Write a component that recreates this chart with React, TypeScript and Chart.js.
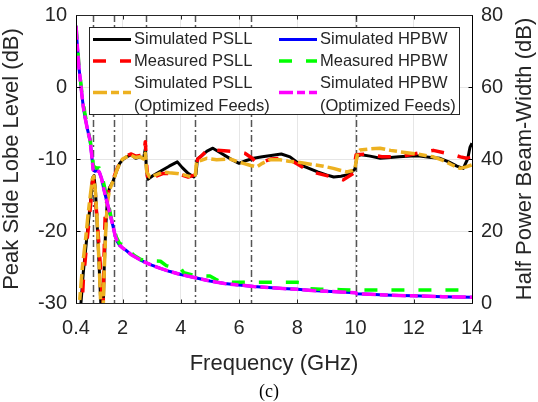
import React, { useEffect, useRef } from "react";
import { Chart, registerables } from "chart.js";

Chart.register(...registerables);

// ---------- tick labels / axes ----------
const xTickValues = [0.4, 2, 4, 6, 8, 10, 12, 14];
const xTickLabels = ["0.4", "2", "4", "6", "8", "10", "12", "14"];
const bandEdges = [1.0, 1.7, 2.8, 4.5, 6.4, 10.0];

// ---------- Simulated PSLL (dB) ----------
const simPsllFreq = [0.4, 0.55, 0.6, 0.65, 0.75, 0.85, 0.92, 0.97, 1.02, 1.07, 1.12, 1.18, 1.24, 1.27, 1.33, 1.37, 1.42, 1.48, 1.55, 1.62, 1.68, 1.74, 1.8, 1.9, 2.0, 2.14, 2.3, 2.45, 2.6, 2.72, 2.78, 2.82, 2.87, 3.05, 3.3, 3.6, 3.88, 4.05, 4.25, 4.45, 4.52, 4.57, 4.7, 4.9, 5.1, 5.3, 5.55, 5.8, 6.0, 6.25, 6.5, 6.8, 7.1, 7.45, 7.75, 8.1, 8.4, 8.7, 9.0, 9.25, 9.5, 9.7, 9.9, 9.98, 10.05, 10.2, 10.5, 10.85, 11.2, 11.5, 11.9, 12.2, 12.6, 12.9, 13.2, 13.48, 13.7, 13.85, 13.93, 14];
const simPsllDb = [-32, -31, -28.5, -25.8, -21.8, -17.8, -15, -12.6, -12.3, -14.5, -18.5, -23.5, -29, -31.5, -31.5, -25, -19.5, -15.5, -14, -13.5, -13, -12.3, -11.6, -10.6, -10.1, -9.7, -9.4, -9.9, -9.7, -9.9, -8.6, -11.5, -12.8, -12.3, -11.7, -11.0, -10.4, -11.2, -12.0, -12.5, -12.1, -10.0, -9.6, -8.9, -8.5, -9.0, -9.6, -10.2, -10.6, -10.2, -9.9, -9.7, -9.5, -9.3, -9.7, -10.8, -11.3, -11.8, -12.2, -12.5, -12.4, -12.2, -11.7, -11.4, -9.6, -9.4, -9.6, -9.9, -9.8, -9.7, -9.6, -9.6, -9.8, -9.9, -10.4, -11, -11.3, -10.0, -8.4, -7.8];

// ---------- Measured PSLL (dB) ----------
const measPsllFreq = [0.4, 0.6, 0.65, 0.75, 0.85, 0.92, 0.96, 1.0, 1.05, 1.12, 1.18, 1.24, 1.28, 1.3, 1.33, 1.36, 1.4, 1.45, 1.5, 1.58, 1.68, 1.75, 1.85, 1.95, 2.1, 2.3, 2.45, 2.6, 2.72, 2.78, 2.83, 2.87, 2.95, 3.2, 3.4, 3.75, 4.0, 4.25, 4.5, 4.58, 4.7, 4.85, 5.0, 5.25, 5.6, 5.92, 6.2, 6.45, 6.66, 6.82, 7.1, 7.5, 7.75, 8.0, 8.32, 8.7, 9.1, 9.58, 9.92, 10.02, 10.4, 10.9, 11.5, 12.0, 12.4, 12.67, 13.0, 13.36, 13.6, 13.82, 14];
const measPsllDb = [-32, -31, -27, -22.5, -18.5, -15.5, -13.2, -13.0, -15, -18, -21.5, -25, -28, -31, -31, -24, -18, -16, -14.8, -13.5, -12.8, -12, -11, -10.2, -9.6, -9.3, -9.6, -9.5, -9.6, -7.6, -11, -13.2, -12.9, -12.3, -12.0, -12.0, -12.2, -12.5, -12.2, -10.0, -9.6, -9.0, -8.5, -8.8, -8.9, -9.0, -9.2, -9.9, -10.8, -10.4, -10.0, -9.9, -10.1, -10.7, -11.5, -12.0, -12.4, -12.9, -12.0, -9.4, -9.3, -9.7, -9.7, -9.3, -9.0, -8.8, -9.1, -9.4, -9.7, -9.9, -9.8];

// ---------- Simulated PSLL, optimized feeds (dB) ----------
const optPsllFreq = [0.4, 0.5, 0.55, 0.62, 0.72, 0.82, 0.9, 0.96, 1.01, 1.06, 1.12, 1.17, 1.23, 1.26, 1.33, 1.37, 1.42, 1.48, 1.55, 1.62, 1.7, 1.8, 1.9, 2.0, 2.14, 2.3, 2.45, 2.6, 2.72, 2.78, 2.83, 2.93, 3.15, 3.39, 3.6, 3.86, 4.1, 4.37, 4.5, 4.54, 4.7, 4.89, 5.23, 5.69, 5.9, 6.15, 6.4, 6.6, 6.8, 7.06, 7.4, 7.7, 7.98, 8.25, 8.55, 8.9, 9.24, 9.5, 9.7, 9.9, 9.98, 10.08, 10.15, 10.5, 10.84, 11.2, 11.53, 12.1, 12.67, 13.0, 13.3, 13.59, 13.8, 14];
const optPsllDb = [-32, -31, -28.5, -25, -21.5, -17.5, -14.8, -12.8, -12.4, -14.2, -18, -22.5, -28, -31.5, -31.5, -25.5, -20, -16, -14.3, -13.6, -12.8, -11.6, -10.6, -10.0, -9.7, -9.5, -9.8, -9.7, -10.0, -9.2, -11.8, -12.5, -12.2, -11.8, -11.9, -12.0, -12.2, -12.5, -12.2, -10.4, -10.2, -9.9, -10.1, -10.0, -10.3, -10.6, -10.9, -11.1, -10.6, -10.1, -10.1, -10.3, -10.4, -10.6, -10.8, -11.0, -11.3, -11.6, -11.8, -11.6, -11.3, -9.0, -8.75, -8.6, -8.5, -8.8, -9.0, -9.3, -9.7, -10.2, -10.8, -11.3, -11.1, -10.8];

// ---------- Simulated HPBW ----------
const simHpbwFreq = [0.4, 0.45, 0.5, 0.6, 0.65, 0.7, 0.8, 0.88, 0.94, 0.99, 1.05, 1.12, 1.2, 1.28, 1.36, 1.45, 1.52, 1.6, 1.68, 1.75, 1.82, 1.9, 2.0, 2.14, 2.3, 2.6, 2.8, 3.0, 3.3, 3.6, 4.0, 4.5, 5.0, 5.5, 6.0, 6.5, 7.0, 7.5, 8.0, 8.5, 9.0, 9.5, 10.0, 10.05, 10.5, 11.0, 11.5, 12.0, 12.5, 13.0, 13.5, 14.0];
const simHpbwDeg = [77, 71, 65.5, 58, 54.5, 52, 48, 45.3, 41, 37, 36.6, 36.8, 36.4, 34.5, 31.5, 28.5, 26.3, 23.8, 21, 18.5, 17, 16, 15.3, 14.5, 13.4, 12, 11.2, 10.5, 9.6, 8.8, 7.9, 7.0, 6.1, 5.4, 5.0, 4.6, 4.3, 4.05, 3.8, 3.5, 3.25, 3.05, 2.85, 2.55, 2.4, 2.25, 2.1, 1.98, 1.87, 1.77, 1.68, 1.6];

// ---------- Measured HPBW ----------
const measHpbwFreq = [0.4, 0.5, 0.6, 0.7, 0.8, 0.9, 1.0, 1.1, 1.2, 1.3, 1.4, 1.5, 1.6, 1.7, 1.8, 1.9, 2.0, 2.1, 2.2, 2.4, 2.6, 2.8, 3.0, 3.3, 3.5, 3.8, 4.0, 4.1, 4.4, 4.5, 5.0, 5.2, 5.4, 6.0, 7.0, 8.0, 8.2, 8.4, 8.8, 9.5, 10.0, 12.0, 14.0];
const measHpbwDeg = [77, 66, 58.5, 53, 48.5, 44.5, 38, 37.5, 37.5, 35, 31.5, 28, 24, 20.5, 18, 16.5, 16.2, 16, 14.6, 13.2, 12.2, 11.7, 11.7, 11.6, 10.4, 9.7, 9.6, 8.4, 7.8, 7.6, 7.5, 6.6, 5.8, 5.75, 5.75, 5.75, 5.6, 4.0, 3.8, 3.7, 3.6, 3.6, 3.6];

// ---------- Simulated HPBW, optimized feeds ----------
const optHpbwFreq = [0.4, 0.45, 0.5, 0.6, 0.65, 0.7, 0.8, 0.88, 0.94, 0.99, 1.05, 1.12, 1.2, 1.28, 1.36, 1.45, 1.52, 1.6, 1.68, 1.75, 1.82, 1.9, 2.0, 2.14, 2.3, 2.6, 2.8, 3.0, 3.3, 3.6, 4.0, 4.5, 5.0, 5.5, 6.0, 6.5, 7.0, 7.5, 8.0, 8.5, 9.0, 9.5, 10.0, 10.05, 10.5, 11.0, 11.5, 12.0, 12.5, 13.0, 13.5, 14.0];
const optHpbwDeg = [77, 71, 65.5, 58, 54.5, 52, 48, 45.3, 41, 37, 36.6, 36.8, 36.4, 34.5, 31.5, 28.5, 26.3, 23.8, 21, 18.5, 17, 16, 15.3, 14.5, 13.4, 12, 11.2, 10.5, 9.6, 8.8, 7.9, 7.0, 6.1, 5.4, 5.0, 4.6, 4.3, 4.05, 3.8, 3.5, 3.25, 3.05, 2.85, 2.55, 2.4, 2.25, 2.1, 1.98, 1.87, 1.77, 1.68, 1.6];

const FONT = '"Liberation Sans", Arial, Helvetica, sans-serif';
const TEXT = "#262626";

const pts = (xs: number[], ys: number[]) => xs.map((x, i) => ({ x, y: ys[i] }));

// legend layout: dataset index, column, row
const legendLayout = [
  { ds: 0, col: 0, row: 0 },
  { ds: 3, col: 1, row: 0 },
  { ds: 1, col: 0, row: 1 },
  { ds: 4, col: 1, row: 1 },
  { ds: 2, col: 0, row: 2 },
  { ds: 5, col: 1, row: 2 },
];

const overlayPlugin = {
  id: "overlay",
  beforeDatasetsDraw(chart: any) {
    const { ctx, chartArea, scales } = chart;
    const x = scales.x;
    ctx.save();
    ctx.strokeStyle = "#555555";
    ctx.lineWidth = 1.5;
    ctx.setLineDash([7, 3, 2, 3]);
    bandEdges.forEach((f) => {
      const px = Math.round(x.getPixelForValue(f)) + 0.5;
      ctx.beginPath();
      ctx.moveTo(px, chartArea.top);
      ctx.lineTo(px, chartArea.bottom);
      ctx.stroke();
    });
    ctx.restore();
  },
  afterDraw(chart: any) {
    const { ctx, chartArea, scales } = chart;
    const { left, right, top, bottom } = chartArea;
    const L = Math.floor(left) + 0.5;
    const R = Math.floor(right) + 0.5;
    const T = Math.floor(top) + 0.5;
    const B = Math.floor(bottom) + 0.5;
    ctx.save();
    ctx.setLineDash([]);
    ctx.lineWidth = 1;
    // inside tick marks
    ctx.strokeStyle = TEXT;
    xTickValues.forEach((v) => {
      const px = Math.round(scales.x.getPixelForValue(v)) + 0.5;
      ctx.beginPath();
      ctx.moveTo(px, B);
      ctx.lineTo(px, B - 4);
      ctx.moveTo(px, T);
      ctx.lineTo(px, T + 4);
      ctx.stroke();
    });
    ctx.strokeStyle = "#000";
    scales.yL.ticks.forEach((t: any) => {
      const py = Math.round(scales.yL.getPixelForValue(t.value)) + 0.5;
      ctx.beginPath();
      ctx.moveTo(L, py);
      ctx.lineTo(L + 4, py);
      ctx.stroke();
    });
    scales.yR.ticks.forEach((t: any) => {
      const py = Math.round(scales.yR.getPixelForValue(t.value)) + 0.5;
      ctx.beginPath();
      ctx.moveTo(R, py);
      ctx.lineTo(R - 4, py);
      ctx.stroke();
    });
    // frame
    ctx.strokeStyle = TEXT;
    ctx.beginPath();
    ctx.moveTo(L, T);
    ctx.lineTo(R, T);
    ctx.moveTo(L, B);
    ctx.lineTo(R, B);
    ctx.stroke();
    ctx.strokeStyle = "#000";
    ctx.beginPath();
    ctx.moveTo(L, T);
    ctx.lineTo(L, B);
    ctx.moveTo(R, T);
    ctx.lineTo(R, B);
    ctx.stroke();

    // legend
    const bx = Math.floor(left) + 13;
    const by = Math.floor(top) + 12;
    const bw = Math.floor(right) - 12 - bx;
    const bh = 88;
    ctx.fillStyle = "#fff";
    ctx.fillRect(bx, by, bw, bh);
    ctx.strokeStyle = "#262626";
    ctx.strokeRect(bx + 0.5, by + 0.5, bw - 1, bh - 1);
    const colX = [bx + 4, bx + 190];
    const rowY = [by + 12.5, by + 34, by + 56];
    const lineGap = 23;
    ctx.font = `16.5px ${FONT}`;
    ctx.textBaseline = "middle";
    ctx.textAlign = "left";
    legendLayout.forEach(({ ds, col, row }) => {
      const d = chart.data.datasets[ds];
      const lines: string[] = Array.isArray(d.label) ? d.label : [d.label];
      const ty = rowY[row];
      const sy = ty + ((lines.length - 1) * lineGap) / 2 - (lines.length > 1 ? 2 : 0);
      const sx = colX[col];
      ctx.save();
      ctx.strokeStyle = d.borderColor;
      ctx.lineWidth = d.borderWidth;
      ctx.setLineDash(d.borderDash || []);
      ctx.lineCap = "butt";
      ctx.beginPath();
      ctx.moveTo(sx, sy);
      ctx.lineTo(sx + 38, sy);
      ctx.stroke();
      ctx.restore();
      ctx.fillStyle = TEXT;
      lines.forEach((s, i) => ctx.fillText(s, sx + 41, ty + i * lineGap));
    });

    // axis titles
    ctx.fillStyle = TEXT;
    ctx.font = `22px ${FONT}`;
    ctx.textAlign = "center";
    ctx.textBaseline = "alphabetic";
    ctx.fillText("Frequency (GHz)", (left + right) / 2, 369.5);
    const midY = (top + bottom) / 2;
    ctx.save();
    ctx.translate(17.5, midY);
    ctx.rotate(-Math.PI / 2);
    ctx.fillText("Peak Side Lobe Level (dB)", 0, 0);
    ctx.restore();
    ctx.save();
    ctx.translate(531, midY);
    ctx.rotate(-Math.PI / 2);
    ctx.fillText("Half Power Beam-Width (dB)", 0, 0);
    ctx.restore();
    // caption
    ctx.fillStyle = "#000";
    ctx.font = `18px "Liberation Serif", "Times New Roman", serif`;
    ctx.fillText("(c)", 269, 397);
    ctx.restore();
  },
};

const noPad = (s: any) => {
  s.paddingTop = 0;
  s.paddingBottom = 0;
};

export default function App() {
  const ref = useRef<HTMLCanvasElement | null>(null);
  useEffect(() => {
    if (!ref.current) return;
    const common = { pointRadius: 0, pointHoverRadius: 0, tension: 0, showLine: true, fill: false, borderCapStyle: "butt", borderJoinStyle: "round" };
    const chart = new Chart(ref.current, {
      type: "scatter",
      data: {
        datasets: [
          { ...common, label: "Simulated PSLL", data: pts(simPsllFreq, simPsllDb), yAxisID: "yL", borderColor: "#000000", borderWidth: 3, borderDash: [], order: 5 },
          { ...common, label: "Measured PSLL", data: pts(measPsllFreq, measPsllDb), yAxisID: "yL", borderColor: "#ff0000", borderWidth: 3.5, borderDash: [13, 14], order: 4 },
          { ...common, label: ["Simulated PSLL", "(Optimized Feeds)"], data: pts(optPsllFreq, optPsllDb), yAxisID: "yL", borderColor: "#EDB120", borderWidth: 3.5, borderDash: [14, 4, 8, 4], order: 3 },
          { ...common, label: "Simulated HPBW", data: pts(simHpbwFreq, simHpbwDeg), yAxisID: "yR", borderColor: "#0000ff", borderWidth: 3, borderDash: [], order: 2 },
          { ...common, label: "Measured HPBW", data: pts(measHpbwFreq, measHpbwDeg), yAxisID: "yR", borderColor: "#00ff00", borderWidth: 3.5, borderDash: [13, 14], order: 1 },
          { ...common, label: ["Simulated HPBW", "(Optimized Feeds)"], data: pts(optHpbwFreq, optHpbwDeg), yAxisID: "yR", borderColor: "#ff00ff", borderWidth: 3.5, borderDash: [14, 4, 8, 4], order: 0 },
        ] as any,
      },
      options: {
        animation: false,
        responsive: false,
        maintainAspectRatio: false,
        events: [],
        layout: { padding: { top: 15, left: 0, right: 0, bottom: 0 } },
        plugins: { legend: { display: false }, tooltip: { enabled: false } },
        scales: {
          x: {
            type: "linear",
            min: 0.4,
            max: 14,
            afterBuildTicks: (s: any) => {
              s.ticks = xTickValues.map((v) => ({ value: v }));
            },
            afterFit: (s: any) => {
              s.height = 99;
              s.paddingLeft = 0;
              s.paddingRight = 0;
            },
            ticks: {
              callback: (_v: any, i: number) => xTickLabels[i],
              font: { family: FONT, size: 20 },
              color: TEXT,
              padding: 13,
              maxRotation: 0,
              autoSkip: false,
            },
            grid: { color: "#e6e6e6", drawTicks: false, lineWidth: 1 },
            border: { display: false },
          },
          yL: {
            type: "linear",
            position: "left",
            min: -30,
            max: 10,
            ticks: { stepSize: 10, font: { family: FONT, size: 20 }, color: TEXT, padding: 9 },
            afterFit: (s: any) => {
              s.width = 76;
              noPad(s);
            },
            grid: { color: "#e6e6e6", drawTicks: false, lineWidth: 1 },
            border: { display: false },
          },
          yR: {
            type: "linear",
            position: "right",
            min: 0,
            max: 80,
            ticks: { stepSize: 20, font: { family: FONT, size: 20 }, color: TEXT, padding: 9 },
            afterFit: (s: any) => {
              s.width = 66;
              noPad(s);
            },
            grid: { display: false, drawTicks: false },
            border: { display: false },
          },
        },
      } as any,
      plugins: [overlayPlugin],
    });
    return () => chart.destroy();
  }, []);
  return (
    <div style={{ position: "absolute", left: 0, top: 0, width: 538, height: 402, background: "#fff" }}>
      <canvas ref={ref} width={538} height={402} style={{ width: 538, height: 402, display: "block" }} />
    </div>
  );
}
